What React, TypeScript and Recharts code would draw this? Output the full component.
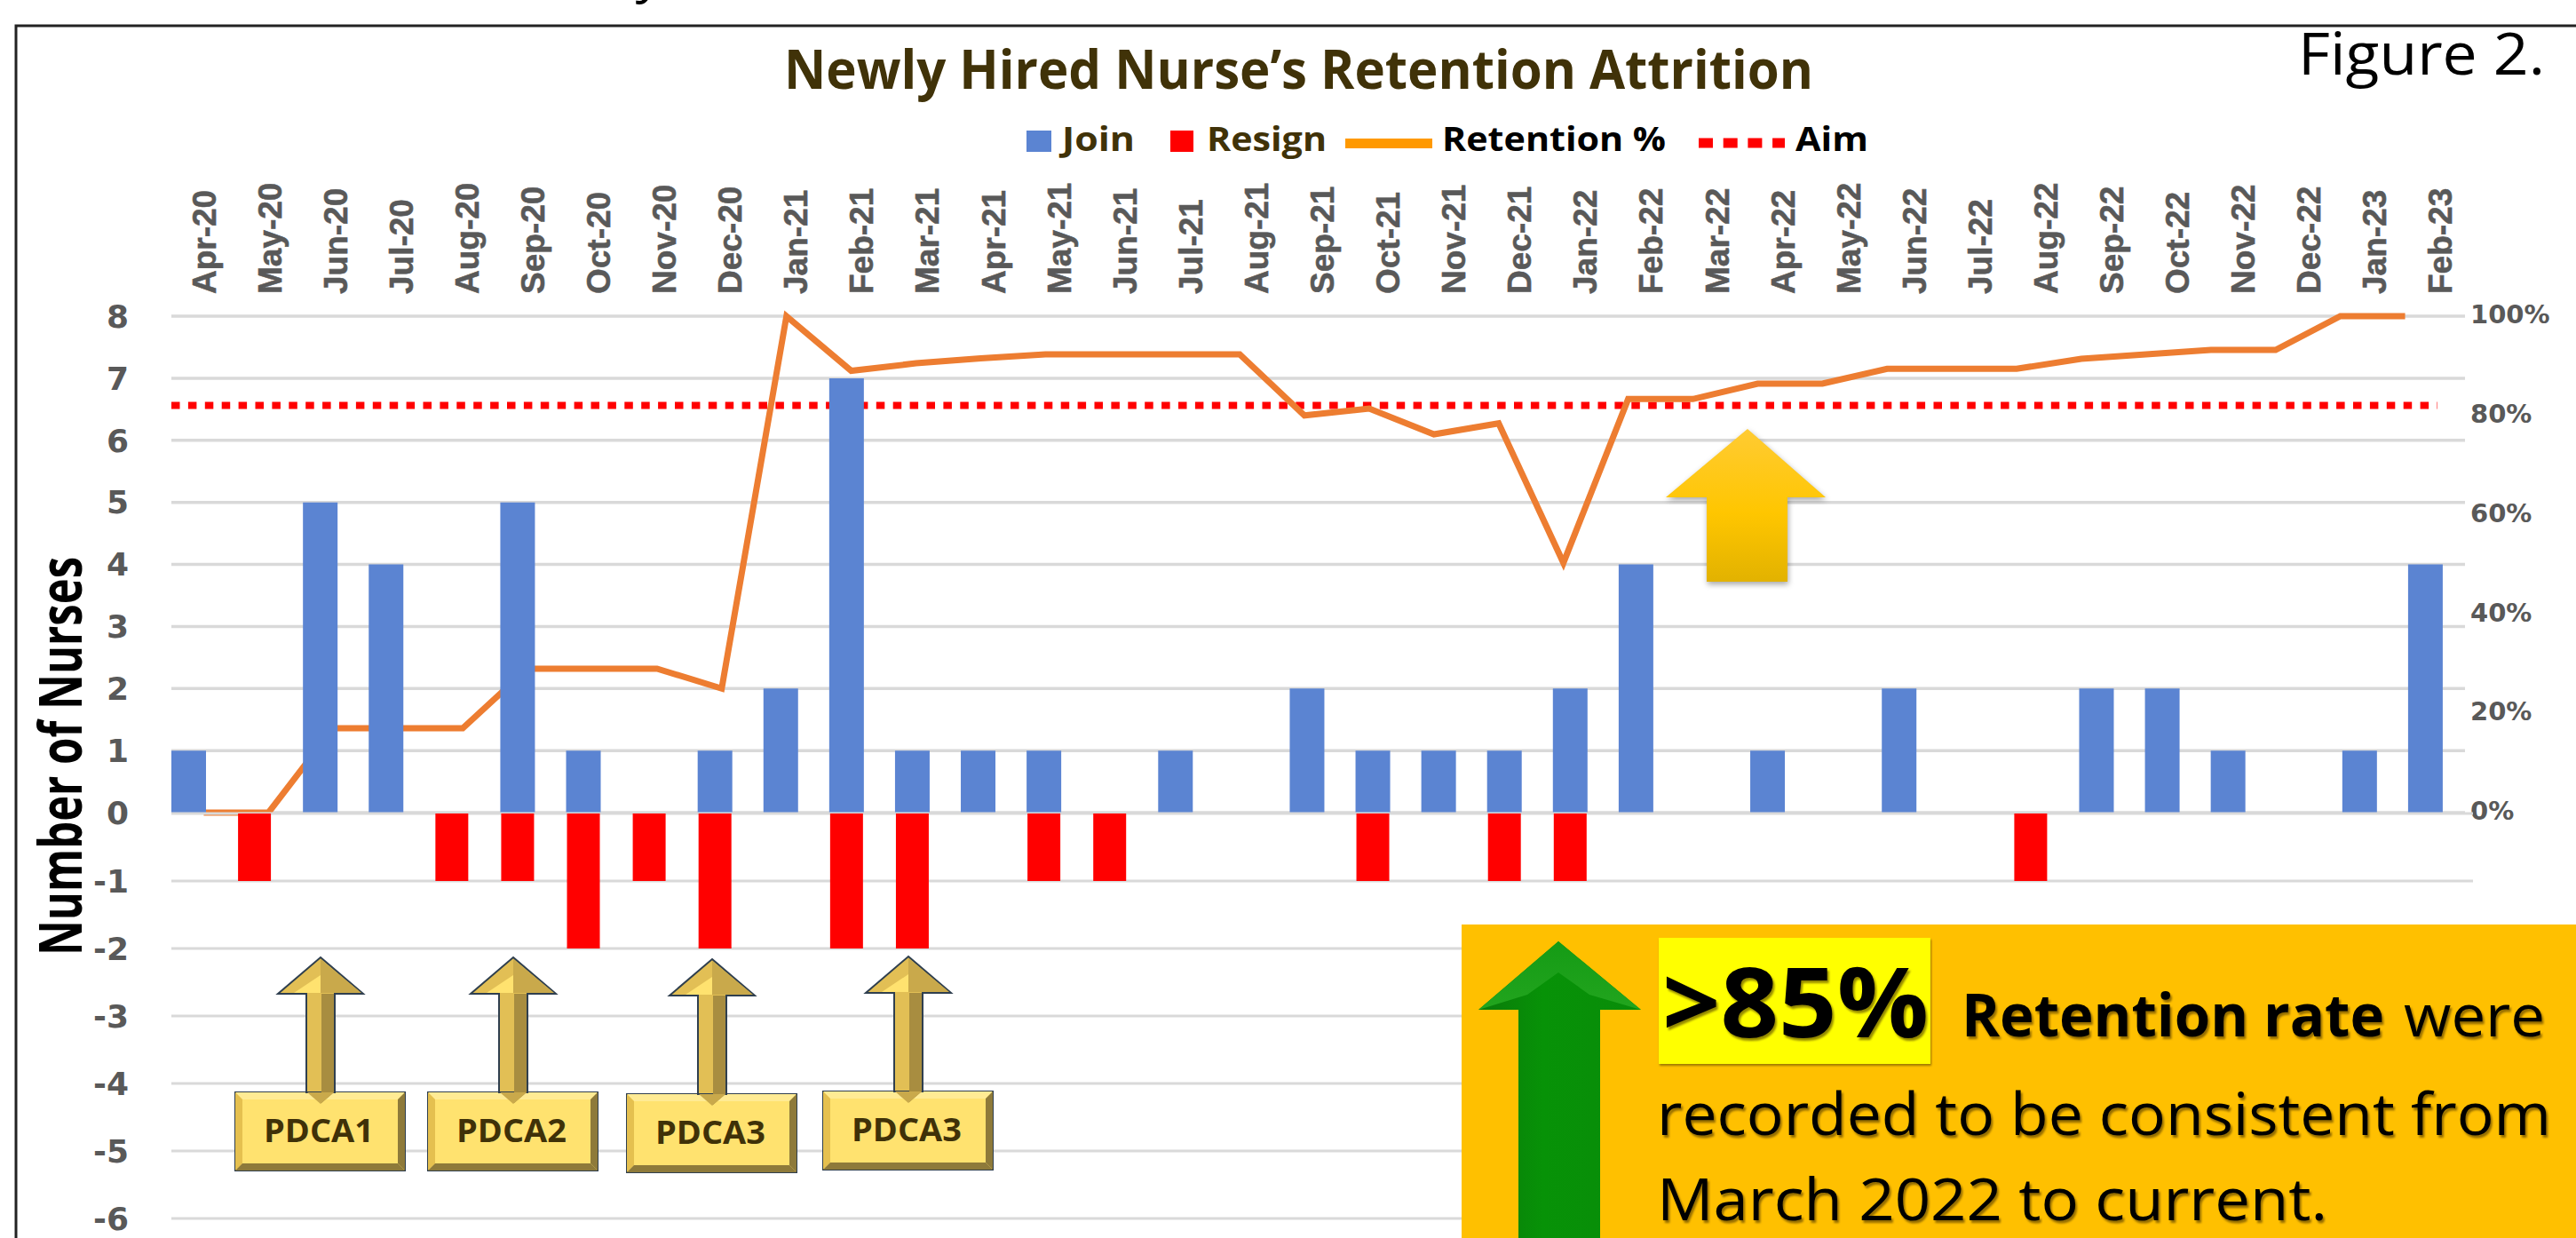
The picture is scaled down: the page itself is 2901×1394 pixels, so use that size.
import { Bar, CartesianGrid, ComposedChart, Line, XAxis, YAxis } from 'recharts';

const months = [
  'Apr-20', 'May-20', 'Jun-20', 'Jul-20', 'Aug-20', 'Sep-20', 'Oct-20', 'Nov-20', 'Dec-20',
  'Jan-21', 'Feb-21', 'Mar-21', 'Apr-21', 'May-21', 'Jun-21', 'Jul-21', 'Aug-21', 'Sep-21', 'Oct-21', 'Nov-21', 'Dec-21',
  'Jan-22', 'Feb-22', 'Mar-22', 'Apr-22', 'May-22', 'Jun-22', 'Jul-22', 'Aug-22', 'Sep-22', 'Oct-22', 'Nov-22', 'Dec-22',
  'Jan-23', 'Feb-23',
];
const join = [1, 0, 5, 4, 0, 5, 1, 0, 1, 2, 7, 1, 1, 1, 0, 1, 0, 2, 1, 1, 1, 2, 4, 0, 1, 0, 2, 0, 0, 2, 2, 1, 0, 1, 4];
const resign = [0, -1, 0, 0, -1, -1, -2, -1, -2, 0, -2, -2, 0, -1, -1, 0, 0, 0, -1, 0, -1, -1, 0, 0, 0, 0, 0, 0, -1, 0, 0, 0, 0, 0, 0];
const retention = [
  0, 0, 17, 17, 17, 29, 29, 29, 25, 100, 89, 90.5, 91.5, 92.3, 92.3, 92.3, 92.3, 80, 81.4, 76.2, 78.4,
  50.3, 83.3, 83.3, 86.4, 86.4, 89.4, 89.4, 89.4, 91.4, 92.3, 93.2, 93.2, 100, 100,
];
const aim = 82;
const countTicks = [0, 1, 2, 3, 4, 5, 6, 7, 8];
const negativeTicks = [0, -1, -2, -3, -4, -5, -6];
const percentTicks = [0, 20, 40, 60, 80, 100];

const chartData = months.map((month, i) => ({
  month,
  join: join[i],
  resign: resign[i],
  retention: retention[i],
  aim,
}));

const GREY = '#595959';
const GRID = '#D9D9D9';
const axisFont = { fontFamily: 'DejaVu Sans', fontWeight: 700, fill: GREY };

function MonthTick({ x, payload }: any) {
  return (
    <text
      x={x}
      y={331}
      transform={`rotate(-90 ${x} 331)`}
      dominantBaseline="central"
      fontFamily="Liberation Sans"
      fontWeight={700}
      fontSize={37}
      fill={GREY}
      stroke={GREY}
      strokeWidth={0.6}
    >
      {payload.value}
    </text>
  );
}

function Pdca({ x, y, label }: { x: number; y: number; label: string }) {
  // x is the arrow axis, y the top of the box
  const l = x - 96;
  const r = x + 95;
  const b = y + 88;
  const tip = y - 152;
  const b2 = 8;
  return (
    <g>
      <rect x={l} y={y} width={r - l} height={b - y} fill="#FFE26F" stroke="#2F3F4F" strokeWidth={2} />
      <polygon points={`${l},${y} ${r},${y} ${r - b2},${y + b2} ${l + b2},${y + b2}`} fill="#FFEB94" />
      <polygon points={`${l},${y} ${l + b2},${y + b2} ${l + b2},${b - b2} ${l},${b}`} fill="#E5C04F" />
      <polygon points={`${r},${y} ${r - b2},${y + b2} ${r - b2},${b - b2} ${r},${b}`} fill="#8E7A3A" />
      <polygon points={`${l},${b} ${l + b2},${b - b2} ${r - b2},${b - b2} ${r},${b}`} fill="#8E7A3A" />
      <polygon
        points={`${x},${tip} ${x + 48},${tip + 41} ${x + 16},${tip + 41} ${x + 16},${y} ${x - 16},${y} ${x - 16},${tip + 41} ${x - 48},${tip + 41}`}
        fill="#E2BF55"
        stroke="#2F3F4F"
        strokeWidth={2}
      />
      <polygon points={`${x},${tip + 2} ${x + 46},${tip + 40} ${x},${tip + 40}`} fill="#C9A94B" />
      <polygon points={`${x},${tip + 20} ${x - 30},${tip + 40} ${x},${tip + 40}`} fill="#FFE26F" />
      <polygon points={`${x + 1},${tip + 41} ${x + 15},${tip + 41} ${x + 15},${y} ${x + 1},${y + 12}`} fill="#A88D40" />
      <polygon points={`${x - 15},${y} ${x},${y + 13} ${x + 15},${y} `} fill="#C9A94B" />
      <text
        x={x - 64}
        y={y + 56}
        textLength={124}
        lengthAdjust="spacingAndGlyphs"
        fontFamily="Open Sans"
        fontWeight={700}
        fontSize={35}
        fill="#3F3108"
      >
        {label}
      </text>
    </g>
  );
}

function FitText({ x, y, w, size, bold, fill = '#000', children, style }: any) {
  return (
    <text
      x={x}
      y={y}
      textLength={w}
      lengthAdjust="spacingAndGlyphs"
      fontFamily="Open Sans"
      fontWeight={bold ? 700 : 400}
      fontSize={size}
      fill={fill}
      style={style}
    >
      {children}
    </text>
  );
}

const calloutShadow = { filter: 'drop-shadow(2px 3px 1px rgba(60,40,0,0.55))' };

export default function App() {
  return (
    <div style={{ position: 'absolute', left: 0, top: 0, width: 2901, height: 1394, overflow: 'hidden', background: '#fff' }}>
      {/* upper part: counts 0..8 and retention %, the picture's scale is tighter above zero */}
      <div style={{ position: 'absolute', left: 0, top: 0 }}>
        <ComposedChart width={2901} height={940} data={chartData} margin={{ top: 226, right: 25, bottom: 25, left: 133 }}>
          <CartesianGrid horizontal vertical={false} stroke={GRID} strokeWidth={3.5} xAxisId="labels" yAxisId="count" />
          <XAxis
            xAxisId="labels"
            dataKey="month"
            scale="band"
            orientation="top"
            height={130}
            interval={0}
            axisLine={false}
            tickLine={false}
            padding={{ left: 0, right: -10 }}
            tick={<MonthTick />}
          />
          <XAxis xAxisId="line" dataKey="month" scale="band" hide padding={{ left: 0, right: 31 }} />
          <XAxis xAxisId="aim" dataKey="month" hide scale="point" padding={{ left: 0, right: 31 }} />
          <YAxis
            yAxisId="count"
            width={60}
            domain={[0, 8]}
            ticks={countTicks}
            interval={0}
            axisLine={false}
            tickLine={false}
            tickMargin={0}
            tick={{ ...axisFont, fontSize: 36, dx: -42 }}
          />
          <YAxis
            yAxisId="pct"
            orientation="right"
            width={100}
            domain={[0, 100]}
            ticks={percentTicks}
            interval={0}
            axisLine={false}
            tickLine={false}
            tickMargin={0}
            tickFormatter={(v: number) => `${v}%`}
            tick={{ ...axisFont, fontSize: 29, dy: -2 }}
          />
          {/* keeps the count axis alive in this layer; the visible bars are in the next one */}
          <Bar xAxisId="labels" yAxisId="count" dataKey="join" fill="none" isAnimationActive={false} />
          <Line
            xAxisId="aim"
            yAxisId="pct"
            dataKey="aim"
            stroke="#FF0000"
            strokeWidth={8}
            strokeDasharray="9.5 9.4"
            dot={false}
            activeDot={false}
            isAnimationActive={false}
          />
          <Line
            xAxisId="line"
            yAxisId="pct"
            dataKey="retention"
            stroke="#ED7D31"
            strokeWidth={7}
            dot={false}
            activeDot={false}
            isAnimationActive={false}
          />
        </ComposedChart>
      </div>

      {/* join bars sit over both lines, so they get their own layer with the same plot box */}
      <div style={{ position: 'absolute', left: 0, top: 0 }}>
        <ComposedChart width={2901} height={940} data={chartData} margin={{ top: 356, right: 125, bottom: 25, left: 193 }}>
          <XAxis xAxisId="bars" dataKey="month" hide padding={{ left: -18, right: 8 }} />
          <YAxis yAxisId="count" hide domain={[0, 8]} />
          <Bar xAxisId="bars" yAxisId="count" dataKey="join" fill="#5B84D2" barSize={39} isAnimationActive={false} />
        </ComposedChart>
      </div>

      {/* lower part: resignations, 0..-6 */}
      <div style={{ position: 'absolute', left: 0, top: 900 }}>
        <ComposedChart width={2901} height={494} data={chartData} margin={{ top: 16, right: 116, bottom: 22, left: 133 }}>
          <CartesianGrid horizontal vertical={false} stroke={GRID} strokeWidth={3} xAxisId="bars" yAxisId="count" />
          <XAxis xAxisId="bars" dataKey="month" hide padding={{ left: -18, right: 17 }} />
          <YAxis
            yAxisId="count"
            width={60}
            domain={[-6, 0]}
            ticks={negativeTicks}
            interval={0}
            axisLine={false}
            tickLine={false}
            tickMargin={0}
            tickFormatter={(v: number) => (v === 0 ? '' : `${v}`)}
            tick={{ ...axisFont, fontSize: 36, dx: -42 }}
          />
          <Bar xAxisId="bars" yAxisId="count" dataKey="resign" fill="#FF0000" barSize={37} isAnimationActive={false} />
        </ComposedChart>
      </div>

      {/* annotations and legend on top of the charts */}
      <svg width={2901} height={1394} style={{ position: 'absolute', left: 0, top: 0 }}>
        <defs>
          <linearGradient id="goldArrow" x1="0" y1="0" x2="0" y2="1">
            <stop offset="0%" stopColor="#FFCB33" />
            <stop offset="55%" stopColor="#FFC600" />
            <stop offset="100%" stopColor="#E2B200" />
          </linearGradient>
          <linearGradient id="greenHead" x1="0" y1="0" x2="0" y2="1">
            <stop offset="0%" stopColor="#159B15" />
            <stop offset="100%" stopColor="#22A51E" />
          </linearGradient>
          <linearGradient id="greenShaft" x1="0" y1="0" x2="1" y2="0">
            <stop offset="0%" stopColor="#0A7A0A" />
            <stop offset="40%" stopColor="#079207" />
            <stop offset="100%" stopColor="#098C09" />
          </linearGradient>
        </defs>

        <text x={722} y={-9} fontFamily="Open Sans" fontStyle="italic" fontSize={60}>y</text>
        <path d="M18 1394 V29 H2901" fill="none" stroke="#222" strokeWidth={3} />

        <FitText x={883} y={100} w={1159} size={60} bold fill="#403208">Newly Hired Nurse’s Retention Attrition</FitText>
        <FitText x={2588} y={84} w={278} size={66}>Figure 2.</FitText>

        <rect x={1156} y={147} width={28} height={24} fill="#5B84D2" />
        <FitText x={1196} y={170} w={82} size={38} bold fill="#403208">Join</FitText>
        <rect x={1318} y={147} width={26} height={24} fill="#FF0000" />
        <FitText x={1359} y={170} w={135} size={38} bold fill="#403208">Resign</FitText>
        <rect x={1515} y={156} width={98} height={11} fill="#FF9900" />
        <FitText x={1624} y={170} w={252} size={38} bold>Retention %</FitText>
        <line x1={1913} x2={2010} y1={161} y2={161} stroke="#FF0000" strokeWidth={11} strokeDasharray="16 11.7" />
        <FitText x={2022} y={170} w={82} size={38} bold>Aim</FitText>

        <g transform="rotate(-90 92 1076)">
          <text
            x={92}
            y={1076}
            textLength={449}
            lengthAdjust="spacingAndGlyphs"
            fontFamily="Open Sans"
            fontWeight={700}
            fontSize={66}
            fill="#000"
          >
            Number of Nurses
          </text>
        </g>

        <polygon
          points="1968,483 2056,560 2013,560 2013,655 1922,655 1922,560 1876,560"
          fill="url(#goldArrow)"
          style={{ filter: 'drop-shadow(1px 3px 3px rgba(0,0,0,0.35))' }}
        />

        <Pdca x={361} y={1230} label="PDCA1" />
        <Pdca x={578} y={1230} label="PDCA2" />
        <Pdca x={802} y={1232} label="PDCA3" />
        <Pdca x={1023} y={1229} label="PDCA3" />

        <rect x={1646} y={1041} width={1255} height={353} fill="#FFC000" />
        <polygon points="1755,1060 1848,1137 1802,1137 1802,1394 1710,1394 1710,1137 1665,1137" fill="url(#greenShaft)" />
        <polygon points="1755,1060 1848,1137 1790,1120 1755,1095 1720,1120 1665,1137" fill="url(#greenHead)" />
        <rect x={1868} y={1056} width={306} height={142} fill="#FFFF00" style={{ filter: 'drop-shadow(1px 2px 1px rgba(90,70,0,0.6))' }} />
        <FitText x={1872} y={1168} w={300} size={110} bold style={calloutShadow}>{'>85%'}</FitText>
        <FitText x={2209} y={1167} w={476} size={66} bold style={calloutShadow}>Retention rate</FitText>
        <FitText x={2707} y={1167} w={159} size={66} style={calloutShadow}>were</FitText>
        <FitText x={1866} y={1278} w={1007} size={66} style={calloutShadow}>recorded to be consistent from</FitText>
        <FitText x={1866} y={1374} w={755} size={66} style={calloutShadow}>March 2022 to current.</FitText>
      </svg>
    </div>
  );
}
